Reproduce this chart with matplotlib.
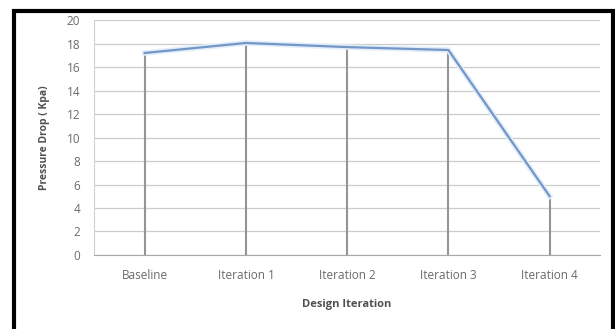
import numpy as np
import matplotlib.pyplot as plt
from matplotlib.patches import Rectangle

# pressure drop per design iteration
iterations = ['Baseline', 'Iteration 1', 'Iteration 2', 'Iteration 3', 'Iteration 4']
pressure_drop = [17.2, 18.05, 17.7, 17.45, 5.0]

plt.rcParams['font.family'] = ['Open Sans', 'DejaVu Sans']

fig = plt.figure(figsize=(6.15, 3.29), dpi=100)
ax = fig.add_axes([0.153, 0.225, 0.823, 0.714])

x = np.arange(len(iterations))

# grey drop lines from each point down to the axis
ax.vlines(x, 0, pressure_drop, color='#959595', linewidth=1.5, zorder=2)
ax.plot(x, pressure_drop, color='#e3eefa', linewidth=4, zorder=3)
ax.plot(x, pressure_drop, color='#7296c6', linewidth=1.6, zorder=4)

ax.set_xlim(-0.5, len(iterations) - 0.5)
ax.set_ylim(0, 20)
ax.set_yticks(np.arange(0, 21, 2))
ax.set_xticks(x)
ax.set_xticklabels(iterations)
ax.yaxis.grid(True, color='#cccccc', linewidth=0.9)
ax.set_axisbelow(True)

for side in ['top', 'right']:
    ax.spines[side].set_visible(False)
ax.spines['left'].set_color('#d0d0d0')
ax.spines['bottom'].set_color('#a8a8a8')
ax.tick_params(axis='both', length=0, labelsize=8.5, labelcolor='#6a6a6a')
ax.tick_params(axis='y', pad=10)
ax.tick_params(axis='x', pad=10)

ax.set_xlabel('Design Iteration', fontsize=8, fontweight='bold', color='#505050', labelpad=12)
ax.set_ylabel('Pressure Drop ( Kpa)', fontsize=7.5, fontweight='bold', color='#505050', labelpad=12)

# black frame around the chart
fig.patches.append(Rectangle((0.022, -0.05), 0.975, 1.018, transform=fig.transFigure,
                             fill=False, edgecolor='black', linewidth=3))

fig.savefig('out.png', dpi=100)
